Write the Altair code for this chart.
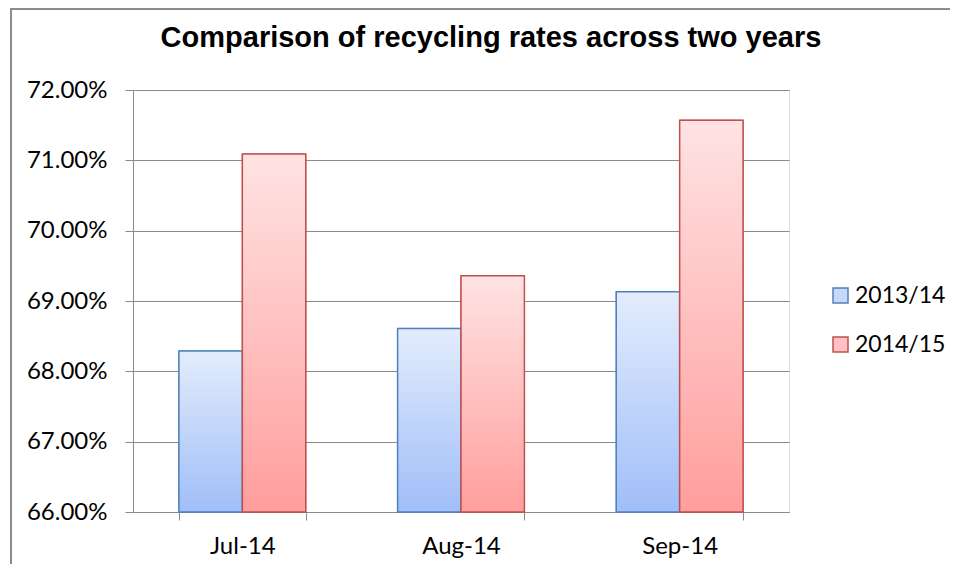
import altair as alt
import pandas as pd

months = ["Jul-14", "Aug-14", "Sep-14"]
series = ["2013/14", "2014/15"]
rate_2013 = [0.6829, 0.6861, 0.6913]
rate_2014 = [0.7109, 0.6936, 0.7157]
y_ticks = [0.66, 0.67, 0.68, 0.69, 0.70, 0.71, 0.72]

title_text = "Comparison of recycling rates across two years"

rows = []
for m, a, b in zip(months, rate_2013, rate_2014):
    rows.append({"month": m, "series": series[0], "rate": a})
    rows.append({"month": m, "series": series[1], "rate": b})
df = pd.DataFrame(rows)

W, H = 656, 422
GRAY = "#8a8a8a"
FONT = "Lato"

stroke_cols = ["#4F81BD", "#C0504D"]
legend_fill = ["#C6D8F8", "#FFC2C2"]

x_enc = alt.X(
    "month:N", sort=months,
    scale=alt.Scale(paddingInner=0.42, paddingOuter=0.21),
    axis=alt.Axis(title=None, labelAngle=0, tickBand="extent", tickSize=8,
                  tickColor=GRAY, domainColor=GRAY, labelFont=FONT,
                  labelFontSize=24, labelColor="black", labelPadding=14,
                  grid=False),
)
xo_enc = alt.XOffset("series:N", sort=series, scale=alt.Scale(paddingInner=0, paddingOuter=0))
y_enc = alt.Y(
    "rate:Q", stack=None,
    scale=alt.Scale(domain=[0.66, 0.72], nice=False, zero=False),
    axis=alt.Axis(title=None, values=y_ticks, format=".2%", tickSize=8,
                  tickColor=GRAY, domainColor=GRAY, gridColor=GRAY,
                  labelFont=FONT, labelFontSize=24, labelColor="black",
                  labelPadding=18, grid=True),
)

leg = alt.Legend(title=None, orient="none", legendX=696, legendY=194,
                 symbolType="square", symbolSize=225, symbolStrokeWidth=1.5,
                 labelFont=FONT, labelFontSize=23, labelColor="black",
                 rowPadding=25, labelOffset=3)

base = alt.Chart(df).encode(x=x_enc, xOffset=xo_enc, y=y_enc)

legend_layer = base.mark_bar().encode(
    fill=alt.Fill("series:N", sort=series,
                  scale=alt.Scale(domain=series, range=legend_fill), legend=leg),
    stroke=alt.Stroke("series:N", sort=series,
                      scale=alt.Scale(domain=series, range=stroke_cols), legend=leg),
)

grad_blue = alt.Gradient(gradient="linear", x1=0, y1=0, x2=0, y2=1,
                         stops=[alt.GradientStop(color="#E3ECFC", offset=0),
                                alt.GradientStop(color="#A0BEF8", offset=1)])
grad_red = alt.Gradient(gradient="linear", x1=0, y1=0, x2=0, y2=1,
                        stops=[alt.GradientStop(color="#FFE3E3", offset=0),
                               alt.GradientStop(color="#FF9E9D", offset=1)])

blue_layer = base.transform_filter(alt.datum.series == series[0]).mark_bar(
    fill=grad_blue, stroke=stroke_cols[0], strokeWidth=1.5)
red_layer = base.transform_filter(alt.datum.series == series[1]).mark_bar(
    fill=grad_red, stroke=stroke_cols[1], strokeWidth=1.5)

one = pd.DataFrame({"k": [0]})
frame_left = alt.Chart(one).mark_rule(stroke="#8c8c8c", strokeWidth=2).encode(
    x=alt.value(-122), y=alt.value(-81), y2=alt.value(480))
frame_top = alt.Chart(one).mark_rule(stroke="#8c8c8c", strokeWidth=2).encode(
    x=alt.value(-123), x2=alt.value(817), y=alt.value(-81))

chart = alt.layer(frame_left, frame_top, legend_layer, blue_layer, red_layer).properties(
    width=W, height=H,
    title=alt.TitleParams(title_text, font="Liberation Sans", fontSize=29,
                          fontWeight="bold", color="black", anchor="middle",
                          frame="group", baseline="alphabetic",
                          dx=30, offset=-68),
    autosize=alt.AutoSizeParams(type="none"),
    padding={"left": 125, "top": 82, "right": 161, "bottom": 52},
).configure_view(stroke=None).configure(background="white")

chart.save("out.html", embed_options={"renderer": "svg", "actions": False})
